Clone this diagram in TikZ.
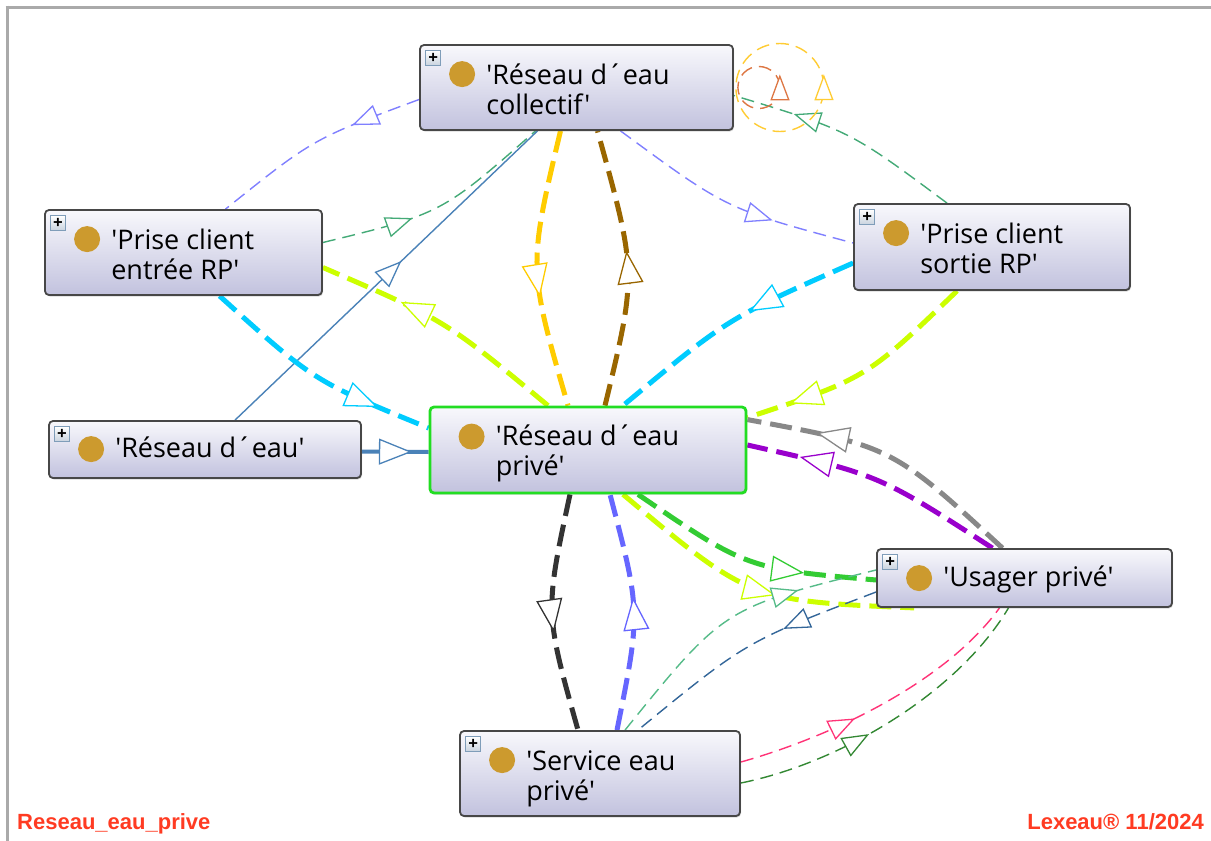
\documentclass[tikz,border=0pt]{standalone}
\usepackage{fontspec}
\newfontfamily\nf{Open Sans}
\newfontfamily\ftf{Liberation Sans}
\usetikzlibrary{arrows.meta,decorations.markings,calc,shadows}
\definecolor{boxtop}{HTML}{F8F8FC}
\definecolor{boxbot}{HTML}{C2C2DE}
\definecolor{boxline}{HTML}{474747}
\definecolor{privline}{HTML}{22DD22}
\definecolor{dotc}{HTML}{CC9A2E}
\definecolor{plusline}{HTML}{7F9DB9}
\definecolor{plusbot}{HTML}{C8D2DE}
\definecolor{footc}{HTML}{FF3B22}
\definecolor{framec}{HTML}{AAAAAA}
\definecolor{clav}{HTML}{8080FF}
\definecolor{csea}{HTML}{44AA77}
\definecolor{csea2}{HTML}{55BB88}
\definecolor{csteel}{HTML}{4A82B8}
\definecolor{cyg}{HTML}{CCFF00}
\definecolor{ccyan}{HTML}{00CCFF}
\definecolor{cgold}{HTML}{FFCC00}
\definecolor{cbrown}{HTML}{996600}
\definecolor{cgray}{HTML}{888888}
\definecolor{cpurple}{HTML}{9900CC}
\definecolor{cgreen}{HTML}{33CC33}
\definecolor{cdblue}{HTML}{336699}
\definecolor{cblack}{HTML}{333333}
\definecolor{cblue}{HTML}{6666FF}
\definecolor{cpink}{HTML}{FF3377}
\definecolor{cdgreen}{HTML}{338833}
\definecolor{corange}{HTML}{DD7744}
\definecolor{cyellow}{HTML}{FFCC33}
\newcommand\lblf{\nf\fontsize{27}{30}\selectfont}
\pgfdeclarelayer{bg}
\pgfdeclarelayer{edges}
\pgfsetlayers{bg,edges,main}
\tikzset{
 ent/.style={draw=boxline, line width=1.8pt, rounded corners=4pt, top color=boxtop, bottom color=boxbot, inner sep=0pt, drop shadow={shadow xshift=1pt, shadow yshift=-1.5pt, opacity=0.3}},
 privbox/.style={ent, draw=privline, line width=2.8pt},
 dot/.style={circle, fill=dotc, minimum size=26pt, inner sep=0pt},
 plusbox/.style={draw=plusline, line width=0.9pt, top color=white, bottom color=plusbot, minimum size=15pt, inner sep=0pt, font=\nf\bfseries\fontsize{17}{17}\selectfont, text=black},
 lbl/.style={anchor=base west, inner sep=0pt},
 tedge/.style={line width=1.4pt, dash pattern=on 13pt off 7pt},
 kedge/.style={line width=5pt, dash pattern=on 22pt off 9pt},
 sedge/.style={line width=1.4pt},
 ma/.style={postaction={decorate, decoration={markings, mark=at position #1 with {\arrow{Triangle[length=27pt, width=21pt, line width=1.3pt, fill=white]}}}}},
 mk/.style={postaction={decorate, decoration={markings, mark=at position #1 with {\arrow{Triangle[length=33pt, width=26pt, line width=1.3pt, fill=white]}}}}},
 mloop/.style={postaction={decorate, decoration={markings, mark=at position 0.001 with {\arrow[xshift=#1]{Triangle[length=26pt, width=19pt, line width=1.3pt, fill=white]}}}}},
 foot/.style={inner sep=0pt, text=footc, font=\ftf\bfseries\fontsize{22}{26}\selectfont},
}
\begin{document}
\begin{tikzpicture}[x=1pt,y=-1pt]
\useasboundingbox (0,0) rectangle (1211,841);
\begin{pgfonlayer}{bg}
\fill[white] (0,0) rectangle (1211,841);
\draw[framec, line width=3pt] (5.5,7) -- (1211,7);
\draw[framec, line width=3pt] (7,5.5) -- (7,841);
\end{pgfonlayer}

% nodes
\node[ent, minimum width=313pt, minimum height=85pt] (coll) at (576.5,87.5) {};
\node[plusbox] (coll-p) at ($(coll.north west)+(14,14)$) {+};
\node[dot] (coll-d) at ($(coll.north west)+(43,30)$) {};
\node[lbl] (coll-t) at ($(coll.north west)+(67,40)$) {\parbox[t]{240pt}{\lblf 'Réseau d´eau\\collectif'}};

\node[ent, minimum width=277pt, minimum height=85pt] (pent) at (183.5,252.5) {};
\node[plusbox] (pent-p) at ($(pent.north west)+(14,14)$) {+};
\node[dot] (pent-d) at ($(pent.north west)+(43,30)$) {};
\node[lbl] (pent-t) at ($(pent.north west)+(67,40)$) {\parbox[t]{200pt}{\lblf 'Prise client\\entrée RP'}};

\node[ent, minimum width=276pt, minimum height=86pt] (psort) at (992,247) {};
\node[plusbox] (psort-p) at ($(psort.north west)+(14,14)$) {+};
\node[dot] (psort-d) at ($(psort.north west)+(43,30)$) {};
\node[lbl] (psort-t) at ($(psort.north west)+(67,40)$) {\parbox[t]{200pt}{\lblf 'Prise client\\sortie RP'}};

\node[ent, minimum width=312pt, minimum height=57pt] (reau) at (205,449.5) {};
\node[plusbox] (reau-p) at ($(reau.north west)+(14,14)$) {+};
\node[dot] (reau-d) at ($(reau.north west)+(43,29)$) {};
\node[lbl] (reau-t) at ($(reau.north west)+(67,37)$) {\lblf 'Réseau d´eau'};

\node[privbox, minimum width=316pt, minimum height=86pt] (priv) at (588,450) {};
\node[dot] (priv-d) at ($(priv.north west)+(43,31)$) {};
\node[lbl] (priv-t) at ($(priv.north west)+(67,40)$) {\parbox[t]{240pt}{\lblf 'Réseau d´eau\\privé'}};

\node[ent, minimum width=295pt, minimum height=58pt] (usag) at (1024.5,578) {};
\node[plusbox] (usag-p) at ($(usag.north west)+(14,14)$) {+};
\node[dot] (usag-d) at ($(usag.north west)+(43,30)$) {};
\node[lbl] (usag-t) at ($(usag.north west)+(67,38)$) {\lblf 'Usager privé'};

\node[ent, minimum width=280pt, minimum height=85pt] (serv) at (600,773.5) {};
\node[plusbox] (serv-p) at ($(serv.north west)+(14,14)$) {+};
\node[dot] (serv-d) at ($(serv.north west)+(43,30)$) {};
\node[lbl] (serv-t) at ($(serv.north west)+(67,40)$) {\parbox[t]{200pt}{\lblf 'Service eau\\privé'}};

\node[foot, anchor=base west] (fl) at (17,829) {Reseau\_eau\_prive};
\node[foot, anchor=base east] (fr) at (1204,829) {Lexeau® 11/2024};

% edges
\begin{pgfonlayer}{edges}
\draw[clav, tedge, ma=0.32] ($(coll.west)+(0,12)$) .. controls (313.3,138.7) .. ($(pent.north)+(42,0)$);
\draw[csea, tedge, ma=0.38] ($(pent.east)+(0,-10)$) .. controls (441.8,213.5) .. ($(coll.south)+(-41,0)$);
\draw[csteel, sedge, ma=0.55] ($(reau.north)+(30,0)$) -- ($(coll.south)+(-39,0)$);
\draw[cyg, kedge, mk=0.68] ($(priv.north)+(-40,0)$) .. controls (445.3,320.3) .. ($(pent.east)+(0,15)$);
\draw[ccyan, kedge, mk=0.78] ($(pent.south)+(36,0)$) .. controls (313.8,381.1) .. ($(priv.west)+(0,-22)$);
\draw[cgold, kedge, mk=0.6] ($(coll.south)+(-16,0)$) .. controls (528,267.8) .. ($(priv.north)+(-20,0)$);
\draw[cbrown, kedge, mk=0.56] ($(priv.north)+(17,0)$) .. controls (637,273.2) .. ($(coll.south)+(21,0)$);
\draw[clav, tedge, ma=0.68] ($(coll.south)+(44,0)$) .. controls (726.7,209.1) .. ($(psort.west)+(0,-4)$);
\draw[ccyan, kedge, mk=0.42] ($(psort.west)+(0,16)$) .. controls (728.1,318.1) .. ($(priv.north)+(35,0)$);
\draw[cyg, kedge, mk=0.82] ($(psort.south)+(-35,0)$) .. controls (866.2,378.4) .. ($(priv.north east)+(0,12)$);
\draw[csea, tedge, ma=0.74] ($(psort.north)+(-45,0)$) .. controls (849.7,130.6) .. ($(coll.east)+(0,8)$);
% self loops on coll
\draw[corange, tedge, mloop=13pt] ($(coll.east)+(46,0)$)
  .. controls ($(coll.east)+(46,-11.6)$) and ($(coll.east)+(36.6,-21)$) .. ($(coll.east)+(25,-21)$)
  .. controls ($(coll.east)+(13.4,-21)$) and ($(coll.east)+(4,-11.6)$) .. ($(coll.east)+(4,0)$)
  .. controls ($(coll.east)+(4,11.6)$) and ($(coll.east)+(13.4,21)$) .. ($(coll.east)+(25,21)$)
  .. controls ($(coll.east)+(36.6,21)$) and ($(coll.east)+(46,11.6)$) .. ($(coll.east)+(46,0)$);
\draw[cyellow, tedge, mloop=13pt] ($(coll.east)+(90,0)$)
  .. controls ($(coll.east)+(90,-24.3)$) and ($(coll.east)+(70.3,-44)$) .. ($(coll.east)+(46,-44)$)
  .. controls ($(coll.east)+(21.7,-44)$) and ($(coll.east)+(2,-24.3)$) .. ($(coll.east)+(2,0)$)
  .. controls ($(coll.east)+(2,24.3)$) and ($(coll.east)+(21.7,44)$) .. ($(coll.east)+(46,44)$)
  .. controls ($(coll.east)+(70.3,44)$) and ($(coll.east)+(90,24.3)$) .. ($(coll.east)+(90,0)$);
\draw[csteel, line width=4pt, mk=0.75] ($(reau.east)+(0,2)$) -- ($(priv.west)+(0,2)$);
\draw[cgray, kedge, mk=0.76] ($(usag.north)+(-22,0)$) .. controls (892.1,446.4) .. ($(priv.north east)+(0,14)$);
\draw[cpurple, kedge, mk=0.8] ($(usag.north)+(-32,0)$) .. controls (878.7,474.4) .. ($(priv.east)+(0,-5)$);
\draw[cgreen, kedge, mk=0.72] ($(priv.south)+(50,0)$) .. controls (747.3,568.8) .. ($(usag.west)+(0,2)$);
\draw[cyg, kedge, mk=0.57] ($(priv.south)+(35,0)$) .. controls (749.9,600.9) .. ($(usag.south west)+(38,0)$);
\draw[csea2, tedge, ma=0.74] ($(serv.north)+(25,0)$) .. controls (723.8,607.8) .. ($(usag.west)+(0,-8)$);
\draw[cdblue, tedge, ma=0.36] ($(usag.west)+(0,14)$) .. controls (746.2,641.4) .. ($(serv.north)+(38,0)$);
\draw[cblack, kedge, mk=0.58] ($(priv.south)+(-18,0)$) .. controls (544.7,611.7) .. ($(serv.north)+(-22,0)$);
\draw[cblue, kedge, mk=0.56] ($(serv.north)+(17,0)$) .. controls (640.8,611.8) .. ($(priv.south)+(22,0)$);
\draw[cpink, tedge, ma=0.4] ($(serv.east)+(0,-11.5)$) .. controls (830,737) and (945,683) .. ($(usag.south)+(-25,0)$);
\draw[cdgreen, tedge, ma=0.42] ($(serv.east)+(0,9.5)$) .. controls (840,763) and (958,693) .. ($(usag.south)+(-16,0)$);
\end{pgfonlayer}
\end{tikzpicture}
\end{document}
